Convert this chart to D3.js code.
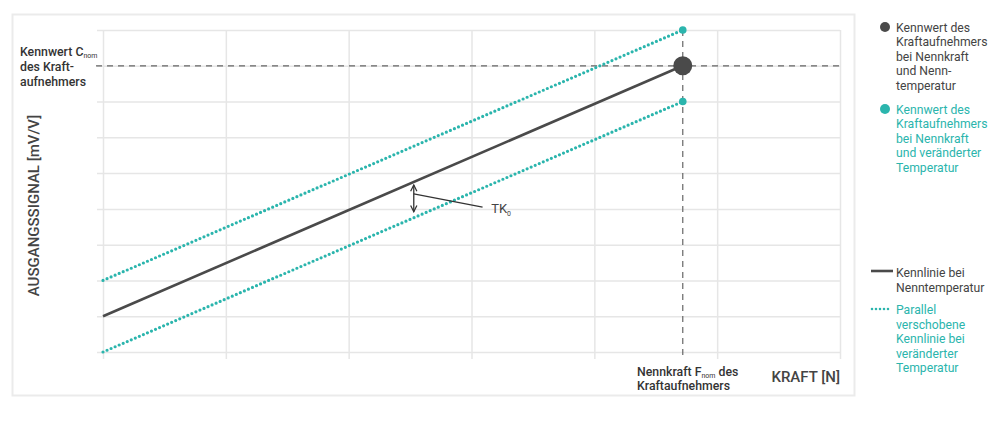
<!DOCTYPE html>
<html>
<head>
<meta charset="utf-8">
<script src="https://cdn.jsdelivr.net/npm/d3@7"></script>
<style>
html,body{margin:0;padding:0;background:#fff;}
svg{display:block;font-family:Roboto,"Noto Sans",sans-serif;}
</style>
</head>
<body>
<svg id="chart" width="1001" height="428"></svg>
<script>
// ---- data ----
const xTicks = [0, 1, 2, 3, 4, 5, 6];
const yTicks = [0, 1, 2, 3, 4, 5, 6, 7, 8, 9];
const fNom = 4.72;
const cNom = 8;
const lineX = [0, fNom];
const nominalY = [1, 8];
const upperY = [2, 9];
const lowerY = [0, 7];
const arrowX = 2.53;
const arrowY = [4.67, 3.92];
const leaderX = [2.53, 3.09];
const leaderY = [4.42, 4.05];
const tkLabelPos = [3.16, 3.88];
const leftLabel = ["Kennwert C", "des Kraft-", "aufnehmers"];
const bottomLabel = ["Nennkraft F", "Kraftaufnehmers"];
const legendPoint1 = ["Kennwert des", "Kraftaufnehmers", "bei Nennkraft", "und Nenn-", "temperatur"];
const legendPoint2 = ["Kennwert des", "Kraftaufnehmers", "bei Nennkraft", "und veränderter", "Temperatur"];
const legendLine1 = ["Kennlinie bei", "Nenntemperatur"];
const legendLine2 = ["Parallel", "verschobene", "Kennlinie bei", "veränderter", "Temperatur"];

const dark = "#4a4a4a";
const teal = "#2bb5ad";
const grid = "#e6e6e6";

const svg = d3.select("#chart");

// outer frame
svg.append("rect").attr("x", 12.5).attr("y", 14.5).attr("width", 842).attr("height", 381)
  .attr("fill", "none").attr("stroke", "#ebebeb").attr("stroke-width", 2);

const x = d3.scaleLinear().domain([0, 6]).range([103, 840]);
const y = d3.scaleLinear().domain([0, 9]).range([352, 30]);
const W = 840 - 103, H = 352 - 30;

// grid via axes
const gy = svg.append("g").attr("transform", "translate(97,0)")
  .call(d3.axisLeft(y).tickValues(yTicks).tickSize(-(W + 6)).tickFormat(""));
gy.select(".domain").remove();
gy.selectAll(".tick line").attr("stroke", grid).attr("stroke-width", 1.5);

const gx = svg.append("g").attr("transform", "translate(0,359)")
  .call(d3.axisBottom(x).tickValues(xTicks).tickSize(-(H + 7)).tickFormat(""));
gx.select(".domain").remove();
gx.selectAll(".tick line").attr("stroke", grid).attr("stroke-width", 1.5);

// dashed reference lines
svg.append("line").attr("x1", 96).attr("x2", x(6)).attr("y1", y(cNom)).attr("y2", y(cNom))
  .attr("stroke", "#666").attr("stroke-width", 1.2).attr("stroke-dasharray", "6,5");
svg.append("line").attr("x1", x(fNom)).attr("x2", x(fNom)).attr("y1", y(9)).attr("y2", 360)
  .attr("stroke", "#666").attr("stroke-width", 1.2).attr("stroke-dasharray", "6,5");

const line = d3.line().x(d => x(d[0])).y(d => y(d[1]));
const mk = ys => lineX.map((v, i) => [v, ys[i]]);

// dotted teal lines
[upperY, lowerY].forEach(ys => {
  svg.append("path").attr("d", line(mk(ys))).attr("fill", "none")
    .attr("stroke", teal).attr("stroke-width", 3.2)
    .attr("stroke-linecap", "round").attr("stroke-dasharray", "0,4.4");
});
// solid nominal
svg.append("path").attr("d", line(mk(nominalY))).attr("fill", "none")
  .attr("stroke", dark).attr("stroke-width", 2.6);

// points
svg.append("circle").attr("cx", x(fNom)).attr("cy", y(nominalY[1])).attr("r", 9.5).attr("fill", dark);
[upperY[1], lowerY[1]].forEach(v => {
  svg.append("circle").attr("cx", x(fNom)).attr("cy", y(v)).attr("r", 3.8).attr("fill", teal);
});

// TK0 annotation
const defs = svg.append("defs");
defs.append("marker").attr("id", "ah").attr("viewBox", "0 0 10 10").attr("refX", 9).attr("refY", 5)
  .attr("markerWidth", 6).attr("markerHeight", 6).attr("orient", "auto-start-reverse")
  .append("path").attr("d", "M1,1 L9,5 L1,9").attr("fill", "none").attr("stroke", "#333").attr("stroke-width", 1.6);
svg.append("line").attr("x1", x(arrowX)).attr("x2", x(arrowX)).attr("y1", y(arrowY[0])).attr("y2", y(arrowY[1]))
  .attr("stroke", "#333").attr("stroke-width", 1.3)
  .attr("marker-start", "url(#ah)").attr("marker-end", "url(#ah)");
svg.append("line").attr("x1", x(leaderX[0])).attr("x2", x(leaderX[1])).attr("y1", y(leaderY[0])).attr("y2", y(leaderY[1]))
  .attr("stroke", "#333").attr("stroke-width", 1.2);
const tk = svg.append("text").attr("x", x(tkLabelPos[0])).attr("y", y(tkLabelPos[1]))
  .attr("font-size", 13).attr("fill", "#444");
tk.append("tspan").text("TK");
tk.append("tspan").text("0").attr("font-size", 7).attr("dy", 3);

// left label
const ll = svg.append("g").attr("fill", "#333").attr("font-size", 12.3).attr("font-weight", 500);
const t0 = ll.append("text").attr("x", 20).attr("y", 56);
t0.append("tspan").text(leftLabel[0]);
t0.append("tspan").text("nom").attr("font-size", 7).attr("font-weight", 400).attr("dy", 1.5);
ll.append("text").attr("x", 20).attr("y", 71).text(leftLabel[1]);
ll.append("text").attr("x", 20).attr("y", 86).text(leftLabel[2]);

// y title
svg.append("text").attr("transform", "translate(39,205.5) rotate(-90)").attr("text-anchor", "middle")
  .attr("font-size", 15).attr("font-weight", 500).attr("fill", "#444").text("AUSGANGSSIGNAL [mV/V]");

// x title
svg.append("text").attr("x", 840).attr("y", 382).attr("text-anchor", "end")
  .attr("font-size", 15).attr("font-weight", 500).attr("fill", "#444").text("KRAFT [N]");

// bottom label
const bl = svg.append("g").attr("fill", "#333").attr("font-size", 12.3).attr("font-weight", 500);
const b0 = bl.append("text").attr("x", 637).attr("y", 376);
b0.append("tspan").text(bottomLabel[0]);
b0.append("tspan").text("nom").attr("font-size", 7).attr("font-weight", 400).attr("dy", 1.5);
b0.append("tspan").text(" des").attr("dy", -1.5);
bl.append("text").attr("x", 637).attr("y", 390).text(bottomLabel[1]);

// legend
function legendText(lines, y0, color) {
  const g = svg.append("g").attr("fill", color).attr("font-size", 12.2);
  lines.forEach((t, i) => g.append("text").attr("x", 896).attr("y", y0 + i * 14.5).text(t));
}
svg.append("circle").attr("cx", 885).attr("cy", 27).attr("r", 5).attr("fill", dark);
legendText(legendPoint1, 31.5, "#444");
svg.append("circle").attr("cx", 885).attr("cy", 109).attr("r", 5).attr("fill", teal);
legendText(legendPoint2, 113.5, teal);
svg.append("line").attr("x1", 871).attr("x2", 893).attr("y1", 271).attr("y2", 271)
  .attr("stroke", dark).attr("stroke-width", 2.6);
legendText(legendLine1, 277, "#444");
svg.append("line").attr("x1", 872).attr("x2", 892).attr("y1", 309).attr("y2", 309)
  .attr("stroke", teal).attr("stroke-width", 2.6).attr("stroke-linecap", "round").attr("stroke-dasharray", "0,4");
legendText(legendLine2, 314, teal);
</script>
</body>
</html>
